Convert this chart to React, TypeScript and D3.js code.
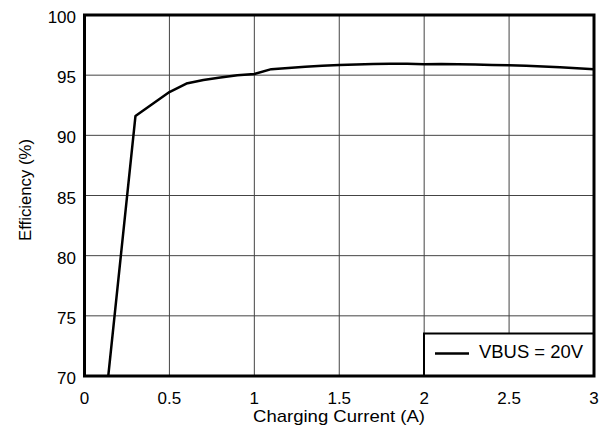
import React from "react";
import * as d3 from "d3";

const currentA = [0.14, 0.3, 0.4, 0.5, 0.6, 0.7, 0.8, 0.9, 1.0, 1.1, 1.2, 1.3, 1.4, 1.5, 1.6, 1.7, 1.8, 1.9, 2.0, 2.1, 2.2, 2.3, 2.4, 2.5, 2.6, 2.7, 2.8, 2.9, 3.0];
const efficiency = [70, 91.6, 92.6, 93.6, 94.3, 94.6, 94.8, 95.0, 95.1, 95.5, 95.6, 95.7, 95.78, 95.84, 95.88, 95.93, 95.94, 95.94, 95.9, 95.93, 95.9, 95.88, 95.85, 95.82, 95.78, 95.72, 95.66, 95.58, 95.5];
const xTicks = [0, 0.5, 1, 1.5, 2, 2.5, 3];
const yTicks = [70, 75, 80, 85, 90, 95, 100];
const seriesName = "VBUS = 20V";

export default function App() {
  const W = 608, H = 429;
  const left = 84.5, right = 594, top = 15, bottom = 376;
  const x = d3.scaleLinear().domain([0, 3]).range([left, right]);
  const y = d3.scaleLinear().domain([70, 100]).range([bottom, top]);
  const line = d3.line<number>().x((_, i) => x(currentA[i])).y((d) => y(d));
  const font = "Arial, 'Liberation Sans', sans-serif";
  return (
    <svg width={W} height={H} style={{ position: "absolute", left: 0, top: 0 }} fontFamily={font}>
      <rect width={W} height={H} fill="#fff" />
      {xTicks.slice(1, -1).map((t) => (
        <line key={"gx" + t} x1={x(t)} x2={x(t)} y1={top} y2={bottom} stroke="#444" strokeWidth={1} />
      ))}
      {yTicks.slice(1, -1).map((t) => (
        <line key={"gy" + t} x1={left} x2={right} y1={y(t)} y2={y(t)} stroke="#444" strokeWidth={1} />
      ))}
      <defs>
        <clipPath id="pa">
          <rect x={left} y={top} width={right - left} height={bottom - top} />
        </clipPath>
      </defs>
      <path d={line(efficiency) || ""} fill="none" stroke="#000" strokeWidth={2.5} strokeLinejoin="round" clipPath="url(#pa)" />
      <rect x={424} y={333.5} width={right - 424} height={bottom - 333.5} fill="#fff" stroke="#000" strokeWidth={2} />
      <line x1={435} x2={469} y1={353.5} y2={353.5} stroke="#000" strokeWidth={2.5} />
      <text x={479} y={357.5} fontSize={17.5} fill="#000" textLength={104} lengthAdjust="spacingAndGlyphs">{seriesName}</text>
      <rect x={left} y={top} width={right - left} height={bottom - top} fill="none" stroke="#000" strokeWidth={3} />
      {yTicks.map((t) => (
        <text key={"ty" + t} x={76} y={y(t) + 8} fontSize={17} textAnchor="end" fill="#000">{t}</text>
      ))}
      {xTicks.map((t) => (
        <text key={"tx" + t} x={x(t)} y={403.5} fontSize={17} textAnchor="middle" fill="#000">{t}</text>
      ))}
      <text x={339} y={422} fontSize={17} textAnchor="middle" fill="#000" textLength={172} lengthAdjust="spacingAndGlyphs">Charging Current (A)</text>
      <text transform={`translate(31,190) rotate(-90)`} fontSize={16.5} textAnchor="middle" fill="#000" textLength={102} lengthAdjust="spacingAndGlyphs">Efficiency (%)</text>
    </svg>
  );
}
